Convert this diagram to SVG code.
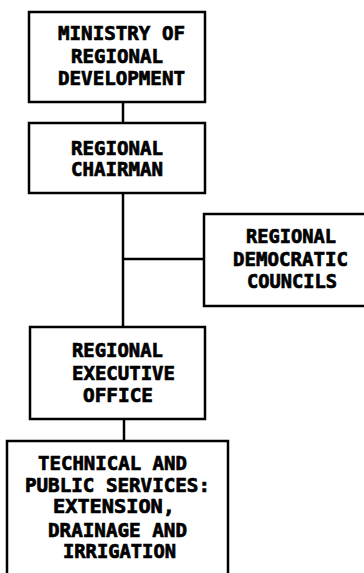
<svg xmlns="http://www.w3.org/2000/svg" width="364" height="573" viewBox="0 0 364 573">
  <style>
    .box { fill: #fff; stroke: #000; stroke-width: 2.5; }
    .link { fill: none; stroke: #000; stroke-width: 2.5; }
    text { font-family: "DejaVu Sans Mono", "Liberation Mono", monospace; font-weight: bold; font-size: 19px; fill: #000; stroke: #000; stroke-width: 0.7; }
  </style>
  <rect width="364" height="573" fill="#fff"/>

  <!-- connectors -->
  <g id="connectors">
    <line class="link" x1="123" y1="102" x2="123" y2="123"/>
    <line class="link" x1="123" y1="193" x2="123" y2="327"/>
    <line class="link" x1="123" y1="259" x2="204" y2="259"/>
    <line class="link" x1="124" y1="419" x2="124" y2="441"/>
  </g>

  <g id="ministry">
    <rect class="box" x="29" y="12" width="176" height="90"/>
    <text x="58" y="40" textLength="127" lengthAdjust="spacingAndGlyphs">MINISTRY OF</text>
    <text x="71" y="63" textLength="92" lengthAdjust="spacingAndGlyphs">REGIONAL</text>
    <text x="58" y="85" textLength="127" lengthAdjust="spacingAndGlyphs">DEVELOPMENT</text>
  </g>

  <g id="chairman">
    <rect class="box" x="29" y="123" width="176" height="70"/>
    <text x="71" y="155" textLength="92" lengthAdjust="spacingAndGlyphs">REGIONAL</text>
    <text x="71" y="176" textLength="92" lengthAdjust="spacingAndGlyphs">CHAIRMAN</text>
  </g>

  <g id="councils">
    <rect class="box" x="204" y="214" width="180" height="92"/>
    <text x="246" y="243" textLength="90" lengthAdjust="spacingAndGlyphs">REGIONAL</text>
    <text x="233" y="266" textLength="115" lengthAdjust="spacingAndGlyphs">DEMOCRATIC</text>
    <text x="247" y="288" textLength="90" lengthAdjust="spacingAndGlyphs">COUNCILS</text>
  </g>

  <g id="executive">
    <rect class="box" x="30" y="327" width="175" height="92"/>
    <text x="72" y="357" textLength="91" lengthAdjust="spacingAndGlyphs">REGIONAL</text>
    <text x="72" y="380" textLength="103" lengthAdjust="spacingAndGlyphs">EXECUTIVE</text>
    <text x="83" y="402" textLength="70" lengthAdjust="spacingAndGlyphs">OFFICE</text>
  </g>

  <g id="services">
    <rect class="box" x="7" y="441" width="221" height="150"/>
    <text x="38" y="470" textLength="149" lengthAdjust="spacingAndGlyphs">TECHNICAL AND</text>
    <text x="25" y="492" textLength="185" lengthAdjust="spacingAndGlyphs">PUBLIC SERVICES:</text>
    <text x="53" y="513" textLength="122" lengthAdjust="spacingAndGlyphs">EXTENSION,</text>
    <text x="48" y="537" textLength="139" lengthAdjust="spacingAndGlyphs">DRAINAGE AND</text>
    <text x="63" y="558" textLength="113" lengthAdjust="spacingAndGlyphs">IRRIGATION</text>
  </g>
</svg>
